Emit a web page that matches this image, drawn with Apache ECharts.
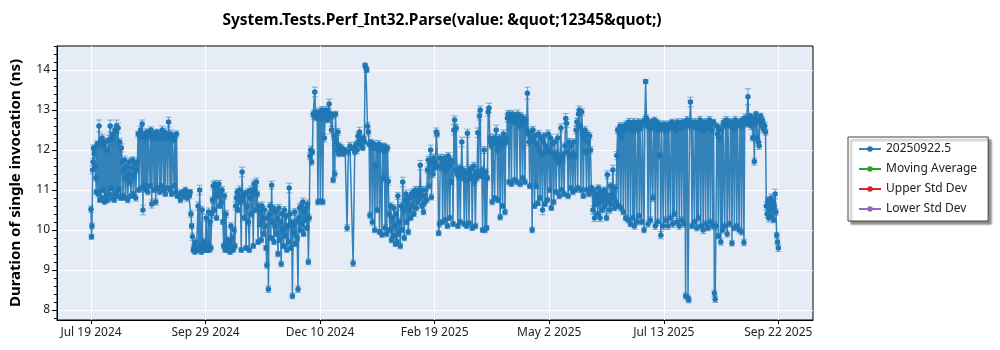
<!DOCTYPE html>
<html><head><meta charset="utf-8">
<script src="https://cdn.jsdelivr.net/npm/echarts@6/dist/echarts.min.js"></script>
<style>html,body{margin:0;padding:0;background:#fff}#c{width:1000px;height:350px}</style>
</head><body><div id="c"></div>
<script>
// x: days since Jul 19 2024
const runDays = [
0,0.3,0.6,1,1.3,1.6,2,2.3,2.6,3,
3.3,3.7,4,4.5,5,5.5,6,6.5,7,7.5,
8,8.5,9,9.5,10,10.5,11,11.5,12,12.5,
13,13.5,14,14.5,15,15.5,16,16.5,17,17.5,
18,18.5,19,19.5,20,20.5,21,21.5,22,22.5,
23,23.5,24,24.5,25,25.5,26,26.5,27,27.5,
28,28.5,29,29.5,30,30.5,31,31.5,32,32.5,
33,33.5,34,34.5,35,35.5,36,36.5,37,37.5,
38,38.5,39,39.5,40,40.5,41,41.5,42,42.5,
43,43.5,44,44.5,45,45.5,46,46.5,47,47.5,
48,48.5,49,49.5,50,50.5,51,51.5,52,52.5,
53,53.5,54,55,56,57,58,59,60,61,
61.5,62,62.5,63,63.5,64,64.5,65,65.5,66,
66.5,67,67.5,68,68.5,69,69.5,70,70.5,71,
71.5,72,72.5,73,73.5,74,74.5,75,75.5,76,
76.5,77,77.5,78,78.5,79,79.5,80,80.5,81,
81.5,82,82.5,83,83.5,84,84.5,85,85.5,86,
86.5,87,87.5,88,88.5,89,89.5,90,90.5,91,
91.5,92,92.5,93,93.5,94,94.5,95,95.5,96,
96.5,97,97.5,98,98.5,99,99.5,100,100.5,101,
101.5,102,102.5,103,103.5,104,104.5,105,105.5,106,
106.5,107,107.5,108,108.5,109,109.5,110,110.5,111,
111.5,112,112.5,113,113.5,114,114.5,115,115.5,116,
116.5,117,117.5,118,118.5,119,119.5,120,120.5,121,
121.5,122,122.5,123,123.5,124,124.5,125,125.5,126,
126.5,127,127.5,128,128.5,129,129.5,130,130.5,131,
131.5,132,132.5,133,133.5,134,134.5,135,135.5,136,
136.5,137,137.5,138,138.5,139,139.5,140,140.5,141,
141.5,142,142.5,143,143.5,144,144.5,145,145.5,146,
146.5,147,147.5,148,148.5,149,149.5,150,150.5,151,
151.5,152,152.5,153,153.5,154,154.5,155,155.5,156,
156.5,157,158,159,160.2,161,162,163,164,165,
165.5,166,166.5,167,167.5,168,168.5,169,169.5,170,
170.5,171,171.5,172,172.5,173,173.5,174,174.5,175,
175.5,176,176.5,177,177.5,178,178.5,179,179.5,180,
180.5,181,181.5,182,182.5,183,183.5,184,184.5,185,
185.5,186,186.5,187,187.5,188,188.5,189,189.5,190,
190.5,191,191.5,192,192.5,193,193.5,194,194.5,195,
195.5,196,196.5,197,197.5,198,198.5,199,199.5,200,
200.5,201,201.5,202,202.5,203,203.5,204,204.5,205,
205.5,206,206.5,207,207.5,208,208.5,209,209.5,210,
210.5,211,211.5,212,212.5,213,213.5,214,214.5,215,
215.5,216,216.5,217,217.5,218,218.5,219,219.5,220,
220.5,221,221.5,222,222.5,223,223.5,224,224.5,225,
225.5,226,226.5,227,227.5,228,228.5,229,229.5,230,
230.5,231,231.5,232,232.5,233,233.5,234,234.5,235,
235.5,236,236.5,237,237.5,238,238.5,239,239.5,240,
240.5,241,241.5,242,242.5,243,243.5,244,244.5,245,
245.5,246,246.5,247,247.5,248,248.5,249,249.5,250,
250.5,251,251.5,252,252.5,253,253.5,254,254.5,255,
255.5,256,256.5,257,257.5,258,258.5,259,259.5,260,
260.5,261,261.5,262,262.5,263,263.5,264,264.5,265,
265.5,266,266.5,267,267.5,268,268.5,269,269.5,270,
270.5,271,271.5,272,272.5,273,273.5,274,274.5,275,
275.5,276,276.5,277,277.5,278,278.5,279,279.5,280,
280.5,281,281.5,282,282.5,283,283.5,284,284.5,285,
285.5,286,286.5,287,287.5,288,288.5,289,289.5,290,
290.5,291,291.5,292,292.5,293,293.5,294,294.5,295,
295.5,296,296.5,297,297.5,298,298.5,299,299.5,300,
300.5,301,301.5,302,302.5,303,303.5,304,304.5,305,
305.5,306,306.5,307,307.5,308,308.5,309,309.5,310,
310.5,311,311.5,312,312.5,313,313.5,314,314.5,315,
315.5,316,316.5,317,317.5,318,318.5,319,319.5,320,
320.5,321,321.5,322,322.5,323,323.5,324,324.5,325,
325.5,326,326.5,327,327.5,328,328.5,329,329.5,330,
330.5,331,331.5,332,332.5,333,333.5,334,334.5,335,
335.5,336,336.5,337,337.5,338,338.5,339,339.5,340,
340.5,341,341.5,342,342.5,343,343.5,344,344.5,345,
345.5,346,346.5,347,347.5,348,348.5,349,349.5,350,
350.5,351,351.5,352,352.5,353,353.5,354,354.5,355,
355.5,356,356.5,357,357.5,358,358.5,359,359.5,360,
360.5,361,361.5,362,362.5,363,363.5,364,364.5,365,
365.5,366,366.5,367,367.5,368,368.5,369,369.5,370,
370.5,371,371.5,372,372.5,373,373.5,374,374.5,375,
375.5,376,376.5,377,377.5,378,378.5,379,379.5,380,
380.5,381,381.5,382,382.5,383,383.5,384,384.5,385,
385.5,386,386.5,387,387.5,388,388.5,389,389.5,390,
390.5,391,391.5,392,392.5,393,393.5,394,394.5,395,
395.5,396,396.5,397,397.5,398,398.5,399,399.5,400,
400.5,401,401.5,402,402.5,403,403.5,404,404.5,405,
405.5,406,406.5,407,407.5,408,408.5,409,409.5,410,
410.5,411,411.5,412,412.5,413,413.5,414,414.5,415,
415.5,416,416.5,417,417.5,418,418.5,419,419.5,420,
420.5,421,421.5,422,422.5,423,423.5,424,424.5,425,
425.5,426,426.5,427,427.5,428,428.5,429,429.5,430
];
const durations = [
10.52,9.83,10.1,11.5,11.7,12.05,11.9,12.0,11.6,11.3,
10.95,12.1,12.15,10.9,12.6,10.75,12.2,10.8,12.3,11.0,
12.1,10.7,12.2,10.85,12.0,10.75,12.25,10.9,12.6,11.05,
12.3,10.8,12.4,10.75,12.5,10.9,12.6,10.85,12.55,11.0,
12.2,10.8,12.05,11.7,10.85,11.5,11.75,10.8,11.3,11.6,
10.75,11.4,11.7,11.2,10.85,11.55,11.75,10.9,11.35,11.65,
10.8,11.5,11.7,12.4,11.0,12.35,12.5,11.05,12.65,10.5,
12.4,11.1,12.3,11.0,12.45,10.95,12.4,12.35,11.1,12.5,
10.65,12.3,12.4,11.0,12.35,10.7,12.45,11.05,12.3,12.4,
10.95,12.35,11.1,12.5,12.3,11.0,12.45,10.9,12.4,12.3,
11.05,12.7,12.35,11.0,12.4,10.9,12.3,12.25,11.1,12.35,
10.95,12.4,10.85,10.9,10.75,10.95,10.85,11.0,10.8,10.9,
10.85,10.95,10.4,10.1,9.83,9.5,9.6,9.45,9.7,9.5,
9.55,10.6,9.5,11.0,9.6,9.45,10.5,9.55,9.7,9.5,
9.6,10.3,9.5,9.65,10.45,9.5,10.2,9.55,10.4,10.75,
11.1,10.5,11.15,10.9,10.3,11.05,10.85,11.15,10.6,10.95,
10.7,11.0,10.2,9.6,10.85,9.5,10.4,9.55,9.75,9.5,
9.7,9.45,10.1,9.55,9.8,9.5,10.0,9.6,10.6,10.8,
10.95,10.5,10.85,11.0,10.7,9.5,11.45,10.75,10.9,10.3,
10.9,9.55,10.6,10.95,10.2,9.5,10.8,11.0,10.4,10.95,
9.6,11.15,11.05,10.5,11.2,10.9,9.7,10.6,10.15,10.45,
9.75,10.6,10.3,9.9,10.5,10.1,9.55,9.12,10.3,8.52,
10.4,10.6,9.8,11.12,10.2,10.55,9.7,10.1,10.45,9.9,
10.3,9.4,10.55,9.75,10.2,9.15,10.4,10.0,9.6,10.5,
9.85,10.35,9.5,10.1,9.7,11.05,10.4,9.55,10.2,8.35,
10.1,9.9,10.45,9.65,10.2,9.8,8.52,10.3,10.55,10.0,
10.6,10.15,10.7,9.9,10.45,10.25,10.55,10.05,10.65,9.2,
10.3,11.85,12.0,11.7,11.95,12.9,12.85,13.45,12.95,12.8,
12.9,10.7,12.85,12.95,10.72,12.8,13.0,10.7,12.9,12.3,
12.85,13.0,12.9,12.75,12.95,13.15,12.85,12.9,12.5,12.85,
11.25,12.35,11.4,12.9,12.2,12.0,12.45,11.9,12.1,12.0,
11.95,12.05,11.9,12.0,10.05,11.95,12.1,12.05,9.17,11.95,
12.1,12.15,12.0,12.35,12.2,12.45,12.3,12.1,12.25,12.05,
12.3,12.2,14.12,14.05,14.0,12.6,12.45,12.15,10.37,12.2,
12.1,10.2,12.05,12.15,10.0,11.6,12.1,10.5,12.0,12.15,
9.95,12.05,12.1,9.88,12.0,11.3,12.1,10.05,12.0,9.9,
12.05,11.22,10.4,10.0,10.6,9.75,10.3,9.85,10.55,10.1,
9.65,10.4,9.7,10.85,9.9,10.2,9.6,10.6,10.0,11.2,
10.5,9.8,10.75,10.9,10.2,10.65,9.95,10.8,10.5,10.3,
10.9,10.6,10.95,10.4,10.85,11.0,10.55,10.9,10.7,11.0,
10.8,11.62,10.9,10.6,11.0,10.45,10.67,10.85,11.0,10.75,
11.5,11.75,11.1,11.65,12.0,10.82,11.7,11.4,11.8,11.55,
11.7,12.45,12.4,11.6,9.92,10.15,11.8,11.55,11.75,10.2,
11.65,11.8,10.25,11.5,11.7,10.1,11.85,11.6,10.3,11.75,
11.2,11.7,10.15,12.5,12.75,11.5,12.55,11.4,10.1,11.35,
11.55,10.2,11.4,12.2,11.3,11.5,10.15,11.45,11.25,10.1,
12.42,11.4,10.17,11.5,11.3,11.55,10.05,11.35,11.6,11.2,
10.1,11.45,11.3,12.43,11.4,12.85,13.0,11.35,11.5,10.0,
11.4,12.0,10.0,11.45,10.05,11.3,12.95,13.05,12.3,12.2,
12.1,10.7,12.25,12.3,10.8,12.15,12.5,12.0,10.75,12.2,
12.3,10.32,12.1,12.25,10.6,12.4,12.15,10.45,12.3,12.2,
12.8,12.9,11.2,12.75,12.85,11.15,12.9,12.8,12.7,11.25,
12.85,12.75,11.2,12.9,12.8,12.6,11.15,12.85,12.7,11.3,
12.8,12.65,11.2,12.75,12.5,13.42,12.4,12.2,11.1,12.45,
12.3,10.0,12.5,12.25,10.6,12.35,11.1,12.15,10.67,12.4,
12.0,10.8,12.3,11.9,10.5,12.2,12.35,10.65,12.1,11.95,
10.75,12.4,12.0,11.0,12.3,10.55,12.15,11.9,10.7,12.2,
11.8,10.95,11.9,12.3,11.7,10.85,11.85,12.55,11.0,11.75,
11.9,10.9,12.1,12.79,12.67,11.95,10.85,12.2,11.85,11.05,
12.1,11.9,10.95,12.2,11.85,11.0,12.5,12.7,11.05,12.9,
13.0,12.6,11.0,12.95,12.45,10.85,12.3,12.5,11.95,11.0,
12.4,12.2,10.9,12.35,12.0,11.05,10.95,10.5,11.0,10.3,
10.8,10.65,10.9,10.4,11.05,10.7,10.3,10.85,10.95,10.5,
10.75,11.0,10.6,10.9,10.3,11.38,10.7,10.85,10.5,11.1,
10.65,10.9,11.5,10.8,10.55,11.05,10.7,11.86,12.5,10.6,
12.45,12.6,10.55,12.3,12.55,10.45,12.6,12.5,10.3,12.65,
12.55,10.25,12.7,12.6,10.15,12.65,12.5,10.3,12.7,10.1,
12.6,12.65,10.2,12.5,12.7,10.35,12.6,12.55,10.2,12.7,
12.65,10.0,12.75,13.71,12.8,12.6,10.15,12.7,12.55,10.25,
12.7,12.65,10.8,12.55,12.75,10.1,12.6,12.7,10.2,12.5,
12.65,11.86,9.87,12.6,12.55,10.1,12.65,12.5,10.25,12.6,
12.5,10.1,12.65,12.6,10.3,12.55,12.7,10.15,12.6,10.4,
12.65,12.5,10.2,12.7,12.6,10.1,12.65,12.55,10.25,12.7,
12.6,10.15,12.7,8.35,12.65,12.75,8.3,8.25,12.6,13.2,
12.7,10.1,12.65,12.6,10.2,12.7,12.55,10.05,12.65,10.3,
12.6,12.75,10.1,12.65,12.5,10.0,12.7,12.6,10.15,12.55,
12.7,10.05,12.6,12.75,10.2,12.65,12.5,10.1,12.7,8.42,
8.27,10.1,12.6,12.4,9.85,12.55,12.3,9.7,12.5,10.0,
12.65,12.7,10.1,12.6,12.75,9.9,12.65,12.7,10.15,12.6,
12.7,9.67,12.65,12.55,10.05,12.75,12.6,10.1,12.7,12.65,
10.0,12.7,12.6,9.95,12.75,12.65,9.69,12.8,12.75,12.7,
12.65,13.33,12.8,12.7,12.85,12.6,12.75,12.3,12.65,11.71,
12.8,12.9,12.3,12.75,12.2,12.1,12.7,12.85,12.6,12.75,
12.65,12.5,12.6,12.45,10.6,10.4,10.75,10.3,10.65,10.5,
10.8,10.35,10.7,10.25,10.6,10.9,10.45,9.87,9.7,9.55
];
const errors = [
/*01*/ 0.08,0.06,0.07,0.1,0.09,0.08,0.1,0.07,0.06,0.08,
/*02*/ 0.06,0.1,0.08,0.07,0.15,0.06,0.09,0.07,0.1,0.06,
/*03*/ 0.08,0.05,0.1,0.06,0.09,0.07,0.12,0.08,0.15,0.06,
/*04*/ 0.1,0.07,0.12,0.06,0.1,0.08,0.15,0.06,0.12,0.07,
/*05*/ 0.09,0.06,0.1,0.08,0.07,0.09,0.1,0.06,0.08,0.09,
/*06*/ 0.07,0.08,0.1,0.09,0.06,0.1,0.08,0.07,0.09,0.1,
/*07*/ 0.08,0.09,0.1,0.07,0.06,0.08,0.09,0.07,0.1,0.12,
/*08*/ 0.08,0.07,0.09,0.06,0.08,0.07,0.1,0.09,0.06,0.08,
/*09*/ 0.1,0.07,0.08,0.06,0.09,0.08,0.07,0.06,0.08,0.09,
/*10*/ 0.07,0.08,0.06,0.1,0.08,0.07,0.09,0.06,0.08,0.07,
/*11*/ 0.06,0.12,0.08,0.07,0.1,0.06,0.08,0.07,0.06,0.09,
/*12*/ 0.07,0.08,0.06,0.08,0.07,0.06,0.09,0.07,0.08,0.06,
/*13*/ 0.07,0.06,0.08,0.07,0.09,0.06,0.07,0.05,0.08,0.06,
/*14*/ 0.07,0.1,0.06,0.12,0.07,0.06,0.09,0.07,0.08,0.06,
/*15*/ 0.07,0.09,0.06,0.07,0.1,0.06,0.08,0.07,0.09,0.08,
/*16*/ 0.1,0.07,0.09,0.08,0.06,0.1,0.07,0.09,0.06,0.08,
/*17*/ 0.07,0.09,0.06,0.07,0.08,0.06,0.09,0.07,0.08,0.06,
/*18*/ 0.07,0.06,0.08,0.07,0.09,0.06,0.08,0.07,0.1,0.08,
/*19*/ 0.08,0.07,0.09,0.1,0.07,0.06,0.12,0.08,0.09,0.07,
/*20*/ 0.08,0.06,0.07,0.09,0.08,0.06,0.07,0.1,0.08,0.09,
/*21*/ 0.06,0.1,0.09,0.07,0.1,0.08,0.06,0.08,0.07,0.09,
/*22*/ 0.07,0.1,0.08,0.06,0.09,0.07,0.06,0.08,0.07,0.08,
/*23*/ 0.08,0.09,0.06,0.1,0.07,0.08,0.06,0.07,0.09,0.07,
/*24*/ 0.08,0.07,0.09,0.06,0.08,0.07,0.09,0.08,0.06,0.09,
/*25*/ 0.07,0.08,0.06,0.07,0.08,0.12,0.09,0.06,0.07,0.07,
/*26*/ 0.08,0.07,0.09,0.06,0.08,0.07,0.08,0.09,0.1,0.07,
/*27*/ 0.09,0.07,0.1,0.06,0.08,0.07,0.09,0.06,0.1,0.07,
/*28*/ 0.08,0.09,0.1,0.08,0.07,0.08,0.09,0.12,0.08,0.07,
/*29*/ 0.09,0.07,0.08,0.1,0.06,0.08,0.09,0.07,0.08,0.1,
/*30*/ 0.07,0.09,0.08,0.07,0.09,0.12,0.08,0.07,0.09,0.08,
/*31*/ 0.07,0.09,0.08,0.07,0.1,0.08,0.09,0.07,0.08,0.06,
/*32*/ 0.07,0.08,0.06,0.07,0.08,0.07,0.09,0.06,0.08,0.07,
/*33*/ 0.08,0.07,0.09,0.1,0.07,0.12,0.08,0.07,0.09,0.06,
/*34*/ 0.08,0.07,0.05,0.05,0.06,0.09,0.1,0.07,0.08,0.07,
/*35*/ 0.07,0.08,0.06,0.09,0.07,0.08,0.06,0.07,0.08,0.09,
/*36*/ 0.06,0.08,0.07,0.06,0.09,0.1,0.07,0.08,0.06,0.07,
/*37*/ 0.08,0.1,0.07,0.06,0.08,0.07,0.09,0.06,0.08,0.07,
/*38*/ 0.06,0.08,0.07,0.09,0.06,0.08,0.07,0.1,0.06,0.12,
/*39*/ 0.08,0.07,0.09,0.1,0.06,0.08,0.07,0.09,0.08,0.06,
/*40*/ 0.09,0.07,0.08,0.06,0.1,0.09,0.07,0.08,0.06,0.09,
/*41*/ 0.07,0.12,0.08,0.06,0.09,0.07,0.08,0.06,0.09,0.07,
/*42*/ 0.08,0.09,0.07,0.1,0.12,0.07,0.08,0.09,0.1,0.08,
/*43*/ 0.09,0.1,0.08,0.07,0.06,0.08,0.09,0.07,0.08,0.06,
/*44*/ 0.08,0.09,0.07,0.08,0.1,0.06,0.09,0.08,0.07,0.09,
/*45*/ 0.07,0.08,0.06,0.12,0.1,0.08,0.09,0.07,0.06,0.08,
/*46*/ 0.09,0.07,0.08,0.12,0.07,0.09,0.06,0.08,0.07,0.06,
/*47*/ 0.1,0.08,0.06,0.09,0.07,0.08,0.06,0.07,0.09,0.08,
/*48*/ 0.07,0.09,0.08,0.12,0.08,0.1,0.1,0.07,0.08,0.06,
/*49*/ 0.08,0.09,0.07,0.08,0.06,0.07,0.1,0.12,0.09,0.08,
/*50*/ 0.08,0.07,0.09,0.1,0.06,0.08,0.12,0.08,0.07,0.09,
/*51*/ 0.09,0.07,0.08,0.09,0.06,0.1,0.08,0.07,0.09,0.08,
/*52*/ 0.1,0.09,0.07,0.08,0.1,0.06,0.09,0.08,0.07,0.07,
/*53*/ 0.09,0.08,0.07,0.1,0.09,0.08,0.07,0.09,0.08,0.07,
/*54*/ 0.09,0.08,0.07,0.09,0.1,0.15,0.08,0.09,0.07,0.1,
/*55*/ 0.08,0.07,0.09,0.08,0.06,0.09,0.07,0.08,0.06,0.09,
/*56*/ 0.08,0.07,0.09,0.08,0.12,0.07,0.09,0.06,0.08,0.07,
/*57*/ 0.07,0.1,0.08,0.07,0.09,0.06,0.08,0.09,0.07,0.08,
/*58*/ 0.08,0.07,0.09,0.1,0.08,0.07,0.09,0.1,0.07,0.08,
/*59*/ 0.09,0.07,0.08,0.12,0.1,0.08,0.07,0.09,0.08,0.07,
/*60*/ 0.08,0.09,0.07,0.08,0.07,0.06,0.1,0.09,0.07,0.1,
/*61*/ 0.1,0.08,0.07,0.09,0.08,0.06,0.08,0.09,0.08,0.07,
/*62*/ 0.09,0.08,0.07,0.09,0.08,0.07,0.06,0.1,0.08,0.09,
/*63*/ 0.08,0.07,0.09,0.06,0.08,0.07,0.09,0.06,0.08,0.07,
/*64*/ 0.07,0.08,0.06,0.09,0.07,0.1,0.08,0.07,0.09,0.08,
/*65*/ 0.08,0.09,0.12,0.08,0.07,0.09,0.08,0.1,0.08,0.07,
/*66*/ 0.09,0.08,0.07,0.09,0.08,0.07,0.09,0.08,0.07,0.08,
/*67*/ 0.08,0.07,0.09,0.08,0.07,0.09,0.08,0.07,0.09,0.08,
/*68*/ 0.09,0.08,0.07,0.09,0.08,0.07,0.09,0.08,0.07,0.08,
/*69*/ 0.08,0.07,0.09,0.05,0.08,0.07,0.08,0.07,0.09,0.08,
/*70*/ 0.08,0.07,0.09,0.08,0.07,0.09,0.08,0.07,0.09,0.08,
/*71*/ 0.08,0.08,0.09,0.08,0.07,0.09,0.08,0.07,0.09,0.08,
/*72*/ 0.08,0.09,0.08,0.07,0.09,0.08,0.07,0.09,0.08,0.07,
/*73*/ 0.08,0.07,0.09,0.08,0.07,0.09,0.08,0.07,0.09,0.08,
/*74*/ 0.08,0.09,0.07,0.08,0.07,0.09,0.08,0.07,0.09,0.12,
/*75*/ 0.08,0.07,0.09,0.08,0.07,0.09,0.08,0.07,0.09,0.08,
/*76*/ 0.09,0.09,0.08,0.08,0.07,0.09,0.08,0.07,0.09,0.08,
/*77*/ 0.09,0.07,0.08,0.09,0.08,0.07,0.08,0.09,0.07,0.08,
/*78*/ 0.08,0.1,0.08,0.09,0.07,0.08,0.09,0.08,0.07,0.08,
/*79*/ 0.08,0.09,0.08,0.07,0.09,0.08,0.07,0.09,0.08,0.07,
/*80*/ 0.08,0.07,0.09,0.08,0.07,0.09,0.08,0.07,0.09,0.08,
/*81*/ 0.08,0.07,0.09,0.08,0.08,0.09,0.08,0.1,0.09,0.08,
/*82*/ 0.08,0.2,0.09,0.08,0.07,0.09,0.08,0.07,0.08,0.09,
/*83*/ 0.08,0.07,0.09,0.08,0.07,0.09,0.08,0.07,0.09,0.08,
/*84*/ 0.08,0.07,0.09,0.08,0.1,0.09,0.08,0.1,0.09,0.08,
/*85*/ 0.1,0.08,0.09,0.07,0.08,0.12,0.08,0.07,0.08,0.09
];
const xTickDays = [0, 71.667, 143.333, 215, 286.667, 358.333, 430];
const xTickLabels = ['Jul 19 2024', 'Sep 29 2024', 'Dec 10 2024', 'Feb 19 2025', 'May 2 2025', 'Jul 13 2025', 'Sep 22 2025'];
const yTicks = [8, 9, 10, 11, 12, 13, 14];
const seriesNames = ['20250922.5', 'Moving Average', 'Upper Std Dev', 'Lower Std Dev'];
const seriesColors = ['#1f77b4', '#2ca02c', '#d62728', '#9467bd'];
const chartTitle = 'System.Tests.Perf_Int32.Parse(value: &quot;12345&quot;)';
const yTitle = 'Duration of single invocation (ns)';

const n = Math.min(runDays.length, durations.length, errors.length);
const points = [], bars = [];
for (let i = 0; i < n; i++) {
  points.push([runDays[i], durations[i]]);
  bars.push([runDays[i], durations[i] - errors[i], durations[i] + errors[i]]);
}
const minorTicks = [];
for (let k = 39; k <= 73; k++) minorTicks.push(k / 5);

const FONT = '"Noto Sans", "DejaVu Sans", sans-serif';
const chart = echarts.init(document.getElementById('c'), null, {renderer: 'canvas'});
const yMin = 7.75, yMax = 14.6, xMin = -21.27, xMax = 451.7;
chart.setOption({
  animation: false,
  textStyle: {fontFamily: FONT},
  title: {
    text: chartTitle, left: 437, top: 8, textAlign: 'center',
    textStyle: {fontSize: 15.5, fontWeight: 'bold', color: '#000', fontFamily: FONT}
  },
  grid: {left: 57, right: 187, top: 46, bottom: 30, show: true, backgroundColor: '#e5ecf6', borderColor: '#000', borderWidth: 1},
  legend: {
    orient: 'vertical', left: 848, top: 137,
    padding: [6, 11, 6, 10], itemGap: 8, itemWidth: 22, itemHeight: 7,
    backgroundColor: '#fff', borderColor: '#444', borderWidth: 1,
    shadowColor: 'rgba(0,0,0,0.45)', shadowBlur: 2, shadowOffsetX: 3, shadowOffsetY: 3,
    textStyle: {fontSize: 12, color: '#222', fontFamily: FONT},
    data: seriesNames
  },
  xAxis: {
    type: 'value', min: xMin, max: xMax,
    axisLine: {show: true, onZero: false, lineStyle: {color: '#000'}},
    axisTick: {show: true, customValues: xTickDays, length: 4, lineStyle: {color: '#000'}},
    axisLabel: {customValues: xTickDays, color: '#222', fontSize: 12, margin: 7, fontFamily: FONT,
      formatter: function (v) { for (let i = 0; i < xTickDays.length; i++) if (Math.abs(xTickDays[i] - v) < 0.01) return xTickLabels[i]; return ''; }},
    splitLine: {show: true, lineStyle: {color: '#fff', width: 1}}
  },
  yAxis: [{
    type: 'value', min: yMin, max: yMax, position: 'left',
    name: yTitle, nameLocation: 'middle', nameGap: 34,
    nameTextStyle: {fontSize: 15, fontWeight: 'bold', color: '#000', fontFamily: FONT},
    axisLine: {show: true, onZero: false, lineStyle: {color: '#000'}},
    axisTick: {show: true, customValues: yTicks, length: 5, lineStyle: {color: '#000'}},
    axisLabel: {customValues: yTicks, color: '#222', fontSize: 12, margin: 7, fontFamily: FONT},
    splitLine: {show: true, lineStyle: {color: '#fff', width: 1}}
  }, {
    type: 'value', min: yMin, max: yMax, position: 'left', offset: 0,
    axisLine: {show: false, onZero: false},
    axisTick: {show: true, customValues: minorTicks, length: 3, lineStyle: {color: '#000'}},
    axisLabel: {show: false},
    splitLine: {show: false}
  }],
  series: [{
    type: 'custom', name: 'errorbars', silent: true, clip: true, z: 1,
    encode: {x: 0, y: [1, 2]},
    data: bars,
    renderItem: function (params, api) {
      const x = api.value(0);
      const lo = api.coord([x, api.value(1)]);
      const hi = api.coord([x, api.value(2)]);
      const w = 3;
      const st = {stroke: '#1f77b4', lineWidth: 1, opacity: 0.55};
      return {type: 'group', children: [
        {type: 'line', shape: {x1: lo[0], y1: lo[1], x2: hi[0], y2: hi[1]}, style: st},
        {type: 'line', shape: {x1: lo[0] - w, y1: lo[1], x2: lo[0] + w, y2: lo[1]}, style: st},
        {type: 'line', shape: {x1: hi[0] - w, y1: hi[1], x2: hi[0] + w, y2: hi[1]}, style: st}
      ]};
    }
  }, {
    type: 'line', name: seriesNames[0], data: points, z: 2,
    symbol: 'circle', symbolSize: 5.5, showAllSymbol: true, sampling: null,
    color: seriesColors[0],
    itemStyle: {color: seriesColors[0]},
    lineStyle: {color: seriesColors[0], width: 1.5, opacity: 0.9}
  }, {
    type: 'line', name: seriesNames[1], data: [], symbol: 'circle', color: seriesColors[1], itemStyle: {color: seriesColors[1]}, lineStyle: {color: seriesColors[1]}
  }, {
    type: 'line', name: seriesNames[2], data: [], symbol: 'circle', color: seriesColors[2], itemStyle: {color: seriesColors[2]}, lineStyle: {color: seriesColors[2]}
  }, {
    type: 'line', name: seriesNames[3], data: [], symbol: 'circle', color: seriesColors[3], itemStyle: {color: seriesColors[3]}, lineStyle: {color: seriesColors[3]}
  }]
});
</script>
</body></html>
